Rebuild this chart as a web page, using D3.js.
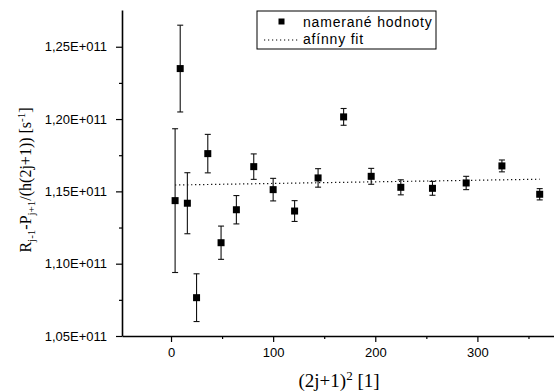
<!DOCTYPE html>
<html>
<head>
<meta charset="utf-8">
<script src="https://cdn.jsdelivr.net/npm/d3@7"></script>
<style>
  body { margin: 0; background: #fff; }
  .tick text { font-family: "Liberation Sans", Arial, sans-serif; font-size: 13px; fill: #000; }
</style>
</head>
<body>
<svg id="chart" width="554" height="392"></svg>
<script>
// (2j+1)^2 values
const xVals = [4, 9, 16, 25, 36, 49, 64, 81, 100, 121, 144, 169, 196, 225, 256, 289, 324, 361];
// measured values [1/s]
const yVals = [1.1436e11, 1.2349e11, 1.1418e11, 1.0765e11, 1.1761e11, 1.1145e11, 1.1373e11, 1.1671e11, 1.1512e11,
               1.1364e11, 1.1593e11, 1.2015e11, 1.1604e11, 1.1528e11, 1.1521e11, 1.1558e11, 1.1676e11, 1.1480e11];
// error bars (half width)
const yErr = [0.0497e11, 0.0300e11, 0.0211e11, 0.0165e11, 0.0133e11, 0.0115e11, 0.0098e11, 0.0088e11, 0.0078e11,
              0.0072e11, 0.0064e11, 0.0058e11, 0.0055e11, 0.0052e11, 0.0048e11, 0.0046e11, 0.0041e11, 0.0039e11];
// affine fit endpoints
const fitX = [4, 361];
const fitY = [1.1544e11, 1.1584e11];

const xTicks = [0, 100, 200, 300];
const xMinor = [50, 150, 250, 350];
const yTicks = [1.05e11, 1.10e11, 1.15e11, 1.20e11, 1.25e11];
const yMinor = [1.075e11, 1.125e11, 1.175e11, 1.225e11];

const legendLabels = ["namerané hodnoty", "afínny fit"];

const m = { left: 122, right: 554, top: 10, bottom: 336 };

const svg = d3.select("#chart");

const x = d3.scaleLinear().domain([-48, 375]).range([m.left, m.right]);
const y = d3.scaleLinear().domain([1.05e11, 1.2754e11]).range([m.bottom, m.top]);

const fmt = v => (v / 1e11).toFixed(2).replace(".", ",") + "E+011";

// minor ticks
svg.append("g")
  .attr("transform", "translate(0," + m.bottom + ")")
  .call(d3.axisBottom(x).tickValues(xMinor).tickSize(3).tickFormat(""))
  .call(g => g.select(".domain").remove());
svg.append("g")
  .attr("transform", "translate(" + m.left + ",0)")
  .call(d3.axisLeft(y).tickValues(yMinor).tickSize(3).tickFormat(""))
  .call(g => g.select(".domain").remove());

// major axes
const gx = svg.append("g")
  .attr("transform", "translate(0," + m.bottom + ")")
  .call(d3.axisBottom(x).tickValues(xTicks).tickSize(6).tickSizeOuter(0).tickPadding(6));
const gy = svg.append("g")
  .attr("transform", "translate(" + m.left + ",0)")
  .call(d3.axisLeft(y).tickValues(yTicks).tickSize(6).tickSizeOuter(0).tickPadding(9).tickFormat(fmt));
[gx, gy].forEach(g => {
  g.select(".domain").attr("stroke-width", 1.6);
});
svg.selectAll(".tick line").attr("stroke", "#000").attr("stroke-width", 1.2);

// fit line
svg.append("path")
  .datum(fitX.map((v, i) => [v, fitY[i]]))
  .attr("fill", "none")
  .attr("stroke", "#000")
  .attr("stroke-width", 1.2)
  .attr("stroke-dasharray", "1.2,2.8")
  .attr("d", d3.line().x(d => x(d[0])).y(d => y(d[1])));

// error bars
const pts = xVals.map((v, i) => ({ x: v, y: yVals[i], e: yErr[i] }));
const eb = svg.append("g").attr("stroke", "#111").attr("stroke-width", 1.1);
pts.forEach(d => {
  const cx = x(d.x), y1 = y(d.y + d.e), y2 = y(d.y - d.e);
  eb.append("line").attr("x1", cx).attr("x2", cx).attr("y1", y1).attr("y2", y2);
  eb.append("line").attr("x1", cx - 3).attr("x2", cx + 3).attr("y1", y1).attr("y2", y1);
  eb.append("line").attr("x1", cx - 3).attr("x2", cx + 3).attr("y1", y2).attr("y2", y2);
});

// markers
svg.append("g").selectAll("rect")
  .data(pts)
  .join("rect")
  .attr("x", d => x(d.x) - 3.5)
  .attr("y", d => y(d.y) - 3.5)
  .attr("width", 7)
  .attr("height", 7)
  .attr("fill", "#000");

// legend
const lg = svg.append("g").attr("transform", "translate(257,11)");
lg.append("rect").attr("width", 179).attr("height", 38)
  .attr("fill", "#fff").attr("stroke", "#000").attr("stroke-width", 1);
lg.append("rect").attr("x", 21.5).attr("y", 7.5).attr("width", 6).attr("height", 6).attr("fill", "#000");
lg.append("line").attr("x1", 7).attr("x2", 43).attr("y1", 29).attr("y2", 29)
  .attr("stroke", "#000").attr("stroke-width", 1.2).attr("stroke-dasharray", "1.2,2.8");
lg.selectAll("text.lbl")
  .data(legendLabels)
  .join("text")
  .attr("class", "lbl")
  .attr("x", 46)
  .attr("y", (d, i) => 15.5 + i * 17)
  .style("font-family", "'Liberation Sans', Arial, sans-serif")
  .style("font-size", "14px")
  .style("letter-spacing", "0.8px")
  .text(d => d);

// axis titles
const xt = svg.append("text")
  .attr("x", 339).attr("y", 387)
  .attr("text-anchor", "middle")
  .style("font-family", "'Liberation Serif', 'Times New Roman', serif")
  .style("font-size", "19px");
xt.append("tspan").text("(2j+1)");
xt.append("tspan").attr("dy", -7).style("font-size", "13px").text("2");
xt.append("tspan").attr("dy", 7).text(" [1]");

const yt = svg.append("text")
  .attr("transform", "translate(31,180) rotate(-90)")
  .attr("text-anchor", "middle")
  .style("font-family", "'Liberation Serif', 'Times New Roman', serif")
  .style("font-size", "16px");
yt.append("tspan").text("R");
yt.append("tspan").attr("dy", 4).style("font-size", "11px").text("j-1");
yt.append("tspan").attr("dy", -4).text("-P");
yt.append("tspan").attr("dy", 4).style("font-size", "11px").text("j+1");
yt.append("tspan").attr("dy", -4).text("/(h(2j+1)) [s");
yt.append("tspan").attr("dy", -6).style("font-size", "11px").text("-1");
yt.append("tspan").attr("dy", 6).text("]");
</script>
</body>
</html>
